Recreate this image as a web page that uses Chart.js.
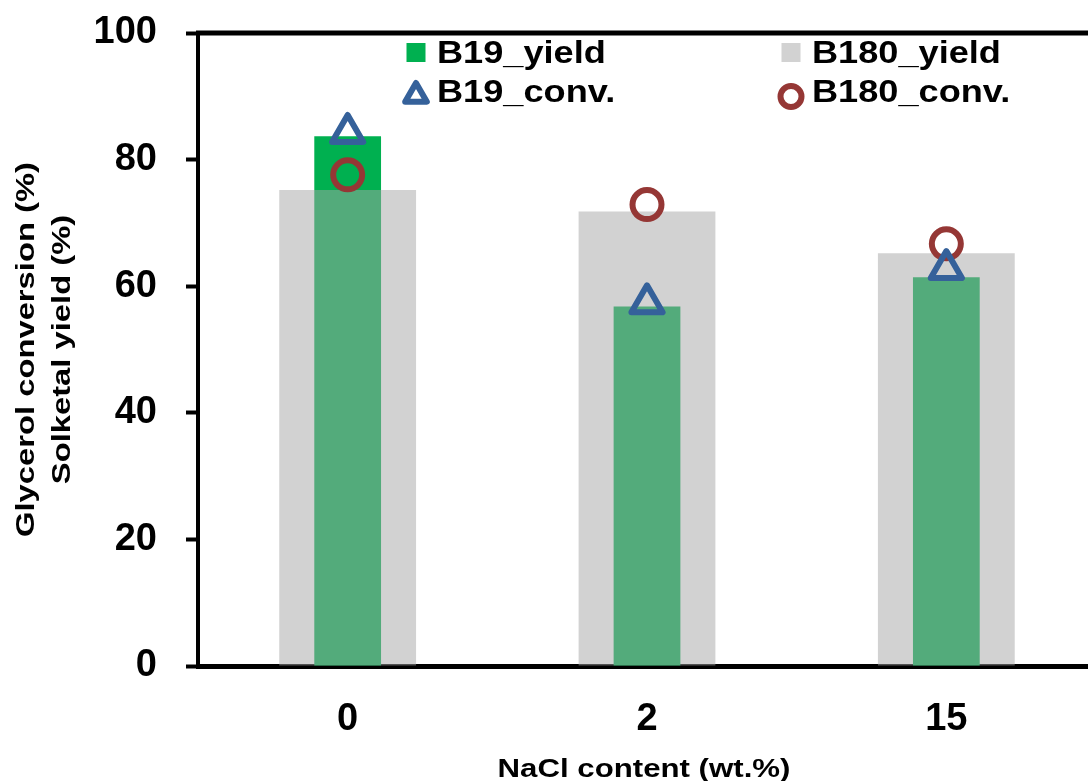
<!DOCTYPE html>
<html>
<head>
<meta charset="utf-8">
<script src="https://cdn.jsdelivr.net/npm/chart.js@4.4.1/dist/chart.umd.min.js"></script>
<style>
  html, body { margin: 0; padding: 0; background: #fff; overflow: hidden; width: 1088px; height: 781px; }
  #wrap { position: absolute; left: 0; top: 0; width: 1120px; height: 781px; }
</style>
</head>
<body>
<div id="wrap"><canvas id="chart" width="1120" height="781"></canvas></div>
<script>
// data
const categories = ['0', '2', '15'];
const b19Yield = [83.7, 56.8, 61.4];
const b180Yield = [75.2, 71.8, 65.2];
const b19Conv = [84.2, 57.3, 62.7];
const b180Conv = [77.6, 72.9, 66.7];
const yMin = 0, yMax = 100, yStep = 20;
const yTitle = ['Glycerol conversion (%)', 'Solketal yield (%)'];
const xTitle = 'NaCl content (wt.%)';

const FONT = '"Liberation Sans", Arial, sans-serif';
const GREEN = '#00B050';
const GREY = 'rgba(166,166,166,0.5)';
const BLUE = '#35619A';
const RED = '#953735';

// text in the reference is a bit stretched along its direction
function stretchedText(ctx, text, x, y, sx) {
  ctx.save();
  ctx.translate(x, y);
  ctx.scale(sx, 1);
  ctx.fillText(text, 0, 0);
  ctx.restore();
}

// legend drawn inside the plot, 2 x 2
const innerLegend = {
  id: 'innerLegend',
  afterDraw(chart) {
    const ctx = chart.ctx;
    const cols = [{ mx: 416, tx: 437 }, { mx: 791, tx: 812 }];
    const rows = [{ my: 52.5, ty: 63 }, { my: 95.5, ty: 102 }];
    const slots = [[0, 0], [1, 0], [0, 1], [1, 1]];
    ctx.save();
    chart.data.datasets.forEach((ds, i) => {
      const c = cols[slots[i][0]], r = rows[slots[i][1]];
      if (ds.type === 'line') {
        ctx.strokeStyle = ds.borderColor;
        ctx.fillStyle = 'rgba(0,0,0,0)';
        ctx.lineJoin = 'round';
        const tri = ds.pointStyle === 'triangle';
        Chart.helpers.drawPoint(ctx, {
          pointStyle: ds.pointStyle,
          radius: tri ? 12.5 : 10.5,
          borderWidth: tri ? 5 : 6,
          rotation: 0
        }, c.mx, tri ? r.my : r.my + 1);
      } else {
        ctx.fillStyle = ds.backgroundColor;
        ctx.fillRect(c.mx - 9.5, r.my - 9.5, 19, 19);
      }
      ctx.fillStyle = '#000';
      ctx.font = 'bold 32px ' + FONT;
      ctx.textBaseline = 'alphabetic';
      ctx.textAlign = 'left';
      stretchedText(ctx, ds.label, c.tx, r.ty, 1.13);
    });
    ctx.restore();
  }
};

// axis titles + top border of the plot area
const frame = {
  id: 'frame',
  afterDraw(chart) {
    const { ctx, chartArea } = chart;
    ctx.save();
    ctx.strokeStyle = '#000';
    ctx.lineWidth = 5;
    ctx.beginPath();
    ctx.moveTo(chartArea.left - 2, chartArea.top);
    ctx.lineTo(chart.width, chartArea.top);
    ctx.stroke();

    ctx.fillStyle = '#000';
    ctx.font = 'bold 26px ' + FONT;
    ctx.textAlign = 'center';
    ctx.textBaseline = 'middle';
    const cy = (chartArea.top + chartArea.bottom) / 2;
    yTitle.forEach((t, i) => {
      ctx.save();
      ctx.translate(27 + i * 36, cy);
      ctx.rotate(-Math.PI / 2);
      stretchedText(ctx, t, 0, 0, 1.26);
      ctx.restore();
    });
    ctx.textBaseline = 'alphabetic';
    stretchedText(ctx, xTitle, 644, 777, 1.2);
    ctx.restore();
  }
};

// round joins for the marker outlines
const roundJoin = {
  id: 'roundJoin',
  beforeDatasetsDraw(chart) { chart.ctx.lineJoin = 'round'; }
};

new Chart(document.getElementById('chart'), {
  type: 'bar',
  data: {
    labels: categories,
    datasets: [
      {
        label: 'B19_yield',
        data: b19Yield,
        backgroundColor: GREEN,
        barPercentage: 0.223,
        categoryPercentage: 1,
        grouped: false,
        order: 4
      },
      {
        label: 'B180_yield',
        data: b180Yield,
        backgroundColor: GREY,
        barPercentage: 0.457,
        categoryPercentage: 1,
        grouped: false,
        order: 3
      },
      {
        type: 'line',
        label: 'B19_conv.',
        data: b19Conv,
        showLine: false,
        pointStyle: 'triangle',
        pointRadius: 18,
        pointBorderWidth: 6,
        borderColor: BLUE,
        pointBorderColor: BLUE,
        pointBackgroundColor: 'rgba(0,0,0,0)',
        clip: false,
        order: 1
      },
      {
        type: 'line',
        label: 'B180_conv.',
        data: b180Conv,
        showLine: false,
        pointStyle: 'circle',
        pointRadius: 14.5,
        pointBorderWidth: 6,
        borderColor: RED,
        pointBorderColor: RED,
        pointBackgroundColor: 'rgba(0,0,0,0)',
        clip: false,
        order: 2
      }
    ]
  },
  options: {
    responsive: false,
    animation: false,
    devicePixelRatio: 1,
    events: [],
    layout: { padding: { top: 33, right: 3, left: 0, bottom: 0 } },
    plugins: {
      legend: { display: false },
      tooltip: { enabled: false }
    },
    scales: {
      x: {
        afterFit: (s) => { s.height = 115; },
        grid: { display: false, drawTicks: false },
        border: { display: true, color: '#000', width: 5 },
        ticks: {
          color: '#000',
          padding: 31,
          font: { family: FONT, size: 38, weight: 'bold' }
        }
      },
      y: {
        min: yMin,
        max: yMax,
        afterFit: (s) => { s.width = 198; s.paddingTop = 0; s.paddingBottom = 0; },
        grid: {
          display: true,
          drawOnChartArea: false,
          drawTicks: true,
          tickLength: 12,
          tickWidth: 4,
          color: '#000'
        },
        border: { display: true, color: '#000', width: 4 },
        ticks: {
          stepSize: yStep,
          color: '#000',
          padding: 29,
          font: { family: FONT, size: 38, weight: 'bold' }
        }
      }
    }
  },
  plugins: [roundJoin, frame, innerLegend]
});
</script>
</body>
</html>
